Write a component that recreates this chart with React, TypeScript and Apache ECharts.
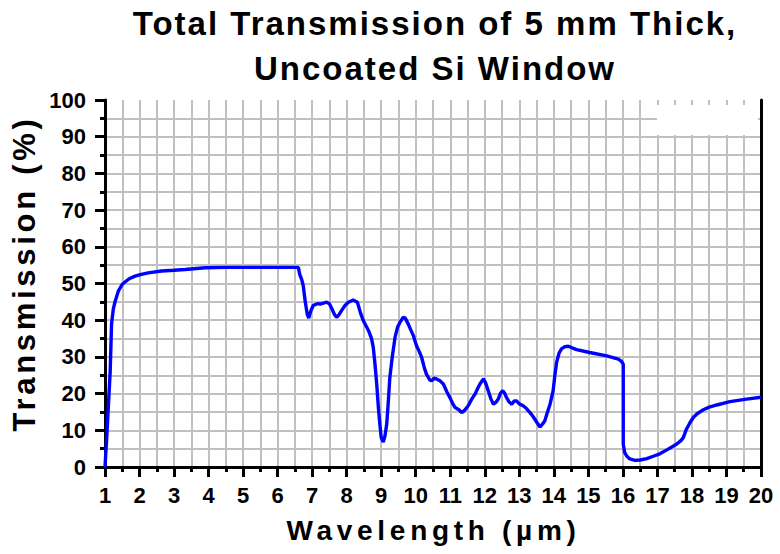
import React, { useEffect, useRef } from "react";
import * as echarts from "echarts";

const titleLines = ["Total Transmission of 5 mm Thick,", "Uncoated Si Window"];
const xAxisName = "Wavelength (µm)";
const yAxisName = "Transmission (%)";

const xRange = [1, 20];
const yRange = [0, 100];

const wavelength = [
  1.0, 1.05, 1.1, 1.15, 1.19, 1.24, 1.29, 1.39, 1.5, 1.58, 1.7, 1.87, 2.05, 2.25, 2.64, 3.0, 3.32, 3.9, 4.5, 5.5,
  6.6, 6.64, 6.7, 6.74, 6.8, 6.86, 6.9, 6.96, 7.03, 7.15, 7.23, 7.42, 7.5, 7.56, 7.65, 7.71, 7.78, 7.85, 7.95, 8.05,
  8.19, 8.31, 8.4, 8.48, 8.63, 8.72, 8.77, 8.82, 8.87, 8.92, 8.96, 9.0, 9.06, 9.11, 9.16, 9.2, 9.25, 9.32, 9.4, 9.47,
  9.54, 9.64, 9.7, 9.78, 9.85, 9.93, 10.02, 10.1, 10.17, 10.25, 10.31, 10.4, 10.46, 10.53, 10.6, 10.7, 10.8, 10.9,
  10.99, 11.07, 11.14, 11.25, 11.33, 11.42, 11.52, 11.62, 11.72, 11.8, 11.86, 11.96, 12.02, 12.1, 12.18, 12.25,
  12.32, 12.39, 12.45, 12.52, 12.58, 12.63, 12.7, 12.78, 12.85, 12.92, 13.0, 13.11, 13.2, 13.31, 13.38, 13.45,
  13.52, 13.6, 13.68, 13.74, 13.8, 13.89, 13.98, 14.03, 14.08, 14.15, 14.22, 14.32, 14.42, 14.55, 14.66, 15.04,
  15.53, 15.87, 15.96, 16.01, 16.01, 16.05, 16.11, 16.2, 16.35, 16.5, 16.69, 16.9, 17.07, 17.3, 17.55, 17.68, 17.75,
  17.84, 17.95, 18.04, 18.15, 18.33, 18.5, 18.72, 19.1, 19.58, 20.0,
];

const transmission = [
  0, 8, 17, 26, 39, 43, 45, 48, 49.8, 50.4, 51.3, 52, 52.5, 52.9, 53.4, 53.6, 53.8, 54.3, 54.4, 54.4,
  54.4, 52.5, 51, 49.5, 45, 41.5, 40.6, 42.5, 44, 44.5, 44.4, 44.9, 44.5, 43.3, 41.5, 40.8, 41.5, 42.6, 44, 44.9,
  45.5, 44.9, 42, 39.9, 37.2, 35, 32.6, 28, 22.6, 16, 11.7, 8, 6.8, 8.5, 11.7, 17, 24.4, 30, 35.3, 38,
  39.4, 40.8, 40.5, 39, 37.5, 35.8, 33.1, 31.5, 29.9, 27, 25.3, 23.8, 23.5, 24.2, 24, 23.5, 22.6, 20.5,
  18.9, 17.3, 16.2, 15.6, 14.8, 15.5, 16.7, 18.5, 19.9, 21.5, 22.6, 24, 23, 20.8, 18.5, 17.1,
  17.6, 18.5, 20, 20.8, 20, 18.9, 17.8, 17.1, 18, 18, 17.2, 16.7, 16, 14.8, 14, 13,
  12, 10.9, 11.8, 12.6, 14.5, 17.1, 20.8, 25, 28.5, 31, 32.2, 32.8, 32.9, 32.4, 32, 31.2,
  30.3, 29.4, 28.8, 28, 6.2, 4, 3, 2.2, 1.8, 1.9, 2.3, 3, 3.6, 4.8, 6.2, 7.2, 8,
  10.3, 12.2, 13.5, 14.5, 15.6, 16.3, 16.9, 17.8, 18.5, 19,
];

const FONT = "'Liberation Sans', Arial, sans-serif";

export default function App() {
  const ref = useRef<HTMLDivElement>(null);

  useEffect(() => {
    if (!ref.current) return;
    const chart = echarts.init(ref.current, null, { renderer: "svg" });
    const data = wavelength.map((w, i) => [w, transmission[i]]);
    const gridLine = { show: true, lineStyle: { color: "#c0c0c0", width: 2 } };
    const borderAxisCommon = {
      axisLine: { show: true, lineStyle: { color: "#000", width: 3 } },
      axisTick: { show: false },
      axisLabel: { show: false },
      splitLine: { show: false },
      z: 1,
    };
    chart.setOption({
      animation: false,
      backgroundColor: "#fff",
      grid: { left: 105, right: 19, top: 100, bottom: 87, containLabel: false },
      xAxis: [
        {
          type: "value",
          min: xRange[0],
          max: xRange[1],
          interval: 1,
          z: 1,
          axisLine: { show: true, onZero: false, lineStyle: { color: "#000", width: 3 } },
          axisTick: { show: true, length: 10, lineStyle: { color: "#000", width: 3 } },
          minorTick: { show: true, splitNumber: 2, length: 5, lineStyle: { color: "#000", width: 3 } },
          axisLabel: {
            show: true,
            margin: 17,
            color: "#000",
            fontFamily: FONT,
            fontWeight: "bold",
            fontSize: 22,
          },
          splitLine: { ...gridLine, showMinLine: false, showMaxLine: false },
          minorSplitLine: gridLine,
        },
        {
          type: "value",
          position: "top",
          min: xRange[0],
          max: xRange[1],
          ...borderAxisCommon,
        },
      ],
      yAxis: [
        {
          type: "value",
          min: yRange[0],
          max: yRange[1],
          interval: 10,
          z: 1,
          axisLine: { show: true, onZero: false, lineStyle: { color: "#000", width: 3 } },
          axisTick: { show: true, length: 10, lineStyle: { color: "#000", width: 3 } },
          minorTick: { show: true, splitNumber: 2, length: 5, lineStyle: { color: "#000", width: 3 } },
          axisLabel: {
            show: true,
            margin: 19,
            color: "#000",
            fontFamily: FONT,
            fontWeight: "bold",
            fontSize: 22,
          },
          splitLine: { ...gridLine, showMinLine: false, showMaxLine: false },
          minorSplitLine: gridLine,
        },
        {
          type: "value",
          position: "right",
          min: yRange[0],
          max: yRange[1],
          ...borderAxisCommon,
        },
      ],
      series: [
        {
          type: "line",
          data,
          showSymbol: false,
          symbol: "none",
          smooth: false,
          z: 3,
          lineStyle: { color: "#0000ff", width: 3.4 },
        },
      ],
      graphic: [
        {
          type: "rect",
          z: 2,
          shape: { x: 657, y: 105, width: 101, height: 30 },
          style: { fill: "#ffffff" },
          silent: true,
        },
        {
          type: "text",
          x: 435,
          y: 23.7,
          style: {
            text: titleLines[0],
            fill: "#000",
            fontFamily: FONT,
            fontWeight: "bold",
            fontSize: 33,
            textAlign: "center",
            textVerticalAlign: "middle",
            align: "center",
            verticalAlign: "middle",
          },
        },
        {
          type: "text",
          x: 435,
          y: 68.8,
          style: {
            text: titleLines[1],
            fill: "#000",
            fontFamily: FONT,
            fontWeight: "bold",
            fontSize: 33,
            textAlign: "center",
            textVerticalAlign: "middle",
            align: "center",
            verticalAlign: "middle",
          },
        },
        {
          type: "text",
          x: 433.5,
          y: 530.3,
          style: {
            text: xAxisName,
            fill: "#000",
            fontFamily: FONT,
            fontWeight: "bold",
            fontSize: 28,
            textAlign: "center",
            textVerticalAlign: "middle",
            align: "center",
            verticalAlign: "middle",
          },
        },
        {
          type: "text",
          x: 24.5,
          y: 273.5,
          rotation: Math.PI / 2,
          style: {
            text: yAxisName,
            fill: "#000",
            fontFamily: FONT,
            fontWeight: "bold",
            fontSize: 31,
            textAlign: "center",
            textVerticalAlign: "middle",
            align: "center",
            verticalAlign: "middle",
          },
        },
      ],
    });
    return () => chart.dispose();
  }, []);

  return (
    <>
      <style>{`
        .si-chart text[style*="33px"] { letter-spacing: 2px; }
        .si-chart text[style*="31px"] { letter-spacing: 3.7px; }
        .si-chart text[style*="28px"] { letter-spacing: 4.7px; }
      `}</style>
      <div
        ref={ref}
        className="si-chart"
        style={{ position: "fixed", left: 0, top: 0, width: 780, height: 554, background: "#fff" }}
      />
    </>
  );
}
